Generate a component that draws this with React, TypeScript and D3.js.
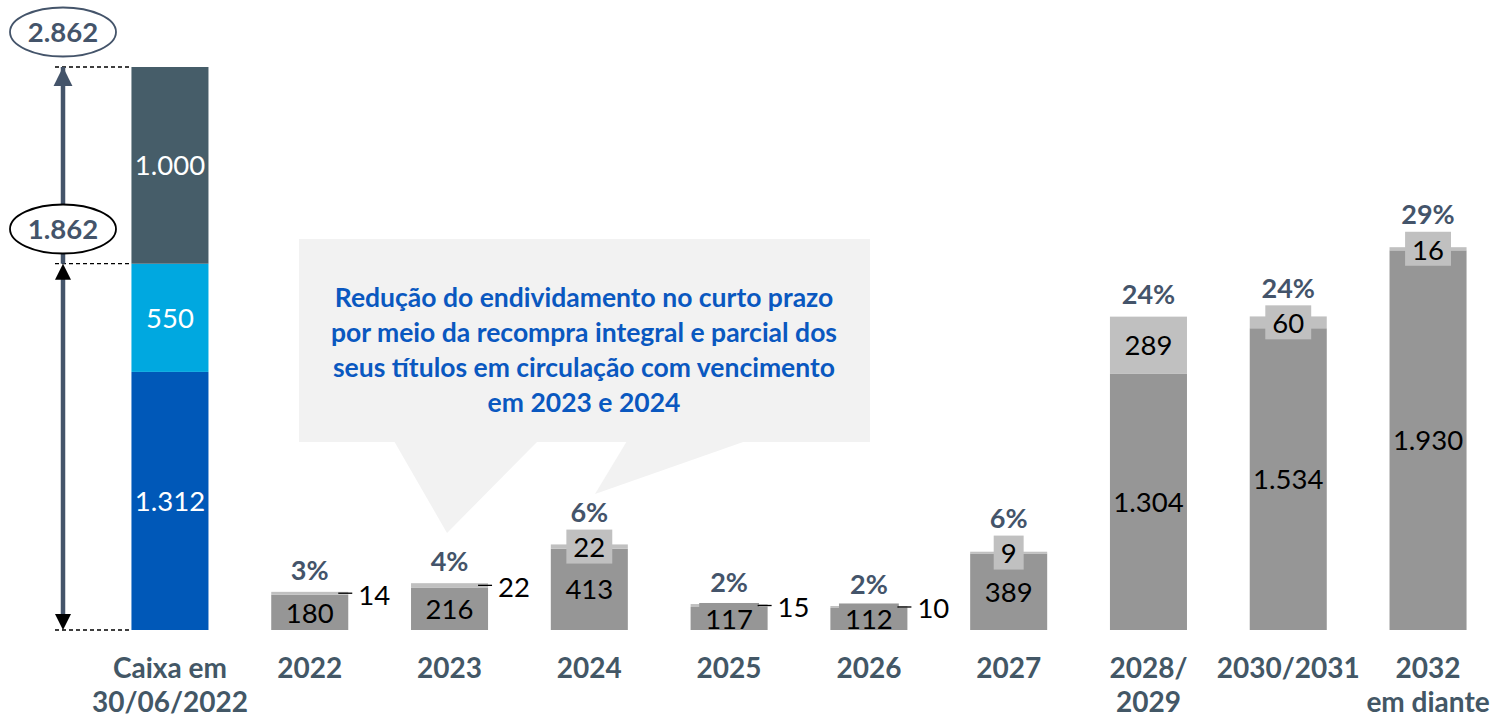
import React from "react";
import * as d3 from "d3";

const categories = ["Caixa em|30/06/2022", "2022", "2023", "2024", "2025", "2026", "2027", "2028/|2029", "2030/2031", "2032|em diante"];
const cashValues = [1312, 550, 1000];
const cashColors = ["#0058b8", "#00a8e0", "#465d69"];
const cashTotal = 2862;
const cashSubTotal = 1862;
const debtMain = [180, 216, 413, 117, 112, 389, 1304, 1534, 1930];
const debtTop = [14, 22, 22, 15, 10, 9, 289, 60, 16];
const pctLabels = ["3%", "4%", "6%", "2%", "2%", "6%", "24%", "24%", "29%"];
const topLabelMode = ["out", "out", "box", "out", "out", "box", "in", "box", "box"];
const calloutLines = [
  "Redução do endividamento no curto prazo",
  "por meio da recompra integral e parcial dos",
  "seus títulos em circulação com vencimento",
  "em 2023 e 2024",
];

const W = 1499;
const H = 719;
const FONT = "Lato, 'Open Sans', sans-serif";
const SLATE = "#44546a";
const GRAY = "#969696";
const LIGHT = "#c0c0c0";

const fmt = d3.formatLocale({ decimal: ",", thousands: ".", grouping: [3], currency: ["R$", ""] }).format(",d");

let ctx: CanvasRenderingContext2D | null = null;
function textWidth(s: string, size: number, weight = "normal") {
  if (!ctx) ctx = document.createElement("canvas").getContext("2d");
  if (!ctx) return s.length * size * 0.55;
  ctx.font = `${weight} ${size}px Lato`;
  return ctx.measureText(s).width;
}

export default function App() {
  const x = d3.scaleBand<string>().domain(categories).range([100, 1498]).paddingInner(0.449).paddingOuter(0.225);
  const y = d3.scaleLinear().domain([0, cashTotal]).range([630, 67]);
  const bw = x.bandwidth();
  const VS = 27.5; // value font size
  const PS = 27; // percent size
  const CS = 28; // category size
  const capOff = (fs: number) => fs * 0.36;

  const cashStack: { y0: number; y1: number; v: number; c: string }[] = [];
  let acc = 0;
  cashValues.forEach((v, i) => {
    cashStack.push({ y0: acc, y1: acc + v, v, c: cashColors[i] });
    acc += v;
  });
  const cx0 = x(categories[0])!;
  const arrowX = 63;

  return (
    <svg width={W} height={H} style={{ position: "absolute", left: 0, top: 0, background: "#fff" }} fontFamily={FONT}>
      <defs>
        <marker id="headSlate" viewBox="0 0 10 10" refX="10" refY="5" markerWidth="4.2" markerHeight="4.6" orient="auto" markerUnits="strokeWidth">
          <path d="M0,0 L10,5 L0,10 z" fill={SLATE} />
        </marker>
      </defs>
      {/* callout */}
      <g>
        <rect x={299} y={239} width={571} height={203} fill="#f2f2f2" />
        <polygon points="394,441 538,441 447,533" fill="#f2f2f2" />
        <polygon points="627,441 746,441 595,494" fill="#f2f2f2" />
        {calloutLines.map((t, i) => (
          <text key={i} x={584} y={297 + i * 35.3 + capOff(26.5)} textAnchor="middle" fontSize={26.5} fontWeight="bold" fill="#0a58c0">
            {t}
          </text>
        ))}
      </g>

      {/* cash bar */}
      {cashStack.map((s, i) => (
        <g key={i}>
          <rect x={cx0} y={y(s.y1)} width={bw} height={y(s.y0) - y(s.y1)} fill={s.c} />
          <text x={cx0 + bw / 2} y={(y(s.y0) + y(s.y1)) / 2 + capOff(VS)} textAnchor="middle" fontSize={VS} fill="#fff">
            {fmt(s.v)}
          </text>
        </g>
      ))}

      {/* dashed guides */}
      {[cashTotal, cashSubTotal, 0].map((v, i) => (
        <line key={i} x1={55} x2={cx0} y1={y(v)} y2={y(v)} stroke="#000" strokeWidth={1.3} strokeDasharray="4,3" />
      ))}

      {/* arrows */}
      <line x1={arrowX} x2={arrowX} y1={y(cashSubTotal)} y2={y(cashTotal)} stroke={SLATE} strokeWidth={4.5} markerEnd="url(#headSlate)" />
      <line x1={arrowX} x2={arrowX} y1={y(0) - 14} y2={y(cashSubTotal) + 14} stroke={SLATE} strokeWidth={4.5} />
      <polygon points={`${arrowX},${y(cashSubTotal)} ${arrowX - 8},${y(cashSubTotal) + 16} ${arrowX + 8},${y(cashSubTotal) + 16}`} fill="#000" />
      <polygon points={`${arrowX},${y(0)} ${arrowX - 8},${y(0) - 16} ${arrowX + 8},${y(0) - 16}`} fill="#000" />

      {/* ellipses */}
      <ellipse cx={arrowX} cy={32} rx={53} ry={24.5} fill="#fff" stroke={SLATE} strokeWidth={1.8} />
      <text x={arrowX} y={32 + capOff(27.5)} textAnchor="middle" fontSize={27.5} fontWeight="bold" fill={SLATE}>{fmt(cashTotal)}</text>
      <ellipse cx={arrowX} cy={229} rx={53} ry={24.5} fill="#fff" stroke="#000" strokeWidth={1.8} />
      <text x={arrowX} y={229 + capOff(27.5)} textAnchor="middle" fontSize={27.5} fontWeight="bold" fill={SLATE}>{fmt(cashSubTotal)}</text>

      {/* debt bars */}
      {debtMain.map((m, i) => {
        const cat = categories[i + 1];
        const bx = x(cat)!;
        const cxm = bx + bw / 2;
        const t = debtTop[i];
        const yMainTop = y(m);
        const yTop = y(m + t);
        const mode = topLabelMode[i];
        const mainLabel = fmt(m);
        const mainCy = (y(0) + yMainTop) / 2 + (m < 200 ? 0.5 : 0);
        const mw = textWidth(mainLabel, VS) + 12;
        const topLabel = fmt(t);
        const topCy = (yTop + yMainTop) / 2;
        const tw = textWidth(topLabel, VS) + 14;
        const boxTop = topCy - 17;
        const pctCy = mode === "box" ? boxTop - 17 : yTop - 22;
        return (
          <g key={cat}>
            <rect x={bx} y={yMainTop} width={bw} height={y(0) - yMainTop} fill={GRAY} />
            <rect x={bx} y={yTop} width={bw} height={yMainTop - yTop} fill={LIGHT} />
            {m < 200 && mode === "out" && yMainTop - y(0) > -32 && (
              <rect x={cxm - mw / 2} y={Math.min(mainCy - 16, yMainTop)} width={mw} height={y(0) - Math.min(mainCy - 16, yMainTop)} fill={GRAY} />
            )}
            <text x={cxm} y={mainCy + capOff(VS)} textAnchor="middle" fontSize={VS} fill="#000">{mainLabel}</text>
            {mode === "in" && (
              <text x={cxm} y={topCy + capOff(VS)} textAnchor="middle" fontSize={VS} fill="#000">{topLabel}</text>
            )}
            {mode === "box" && (
              <g>
                <rect x={cxm - tw / 2} y={boxTop} width={tw} height={34} fill={LIGHT} />
                <text x={cxm} y={topCy + 1 + capOff(VS)} textAnchor="middle" fontSize={VS} fill="#000">{topLabel}</text>
              </g>
            )}
            {mode === "out" && (
              <g>
                <line x1={bx + bw - 10} x2={bx + bw + 4} y1={topCy} y2={topCy} stroke="#000" strokeWidth={1.3} />
                <text x={bx + bw + 10} y={topCy + 1.5 + capOff(VS)} fontSize={VS} fill="#000">{topLabel}</text>
              </g>
            )}
            <text x={cxm} y={pctCy + capOff(PS)} textAnchor="middle" fontSize={PS} fontWeight="bold" fill={SLATE}>{pctLabels[i]}</text>
          </g>
        );
      })}

      {/* category labels */}
      {categories.map((c) => {
        const lines = c.split("|");
        const cx = x(c)! + bw / 2;
        return (
          <g key={c}>
            {lines.map((l, j) => (
              <text key={j} x={cx} y={668 + j * 34 + capOff(CS)} textAnchor="middle" fontSize={CS} fontWeight="bold" fill="#435766">
                {l}
              </text>
            ))}
          </g>
        );
      })}
    </svg>
  );
}
